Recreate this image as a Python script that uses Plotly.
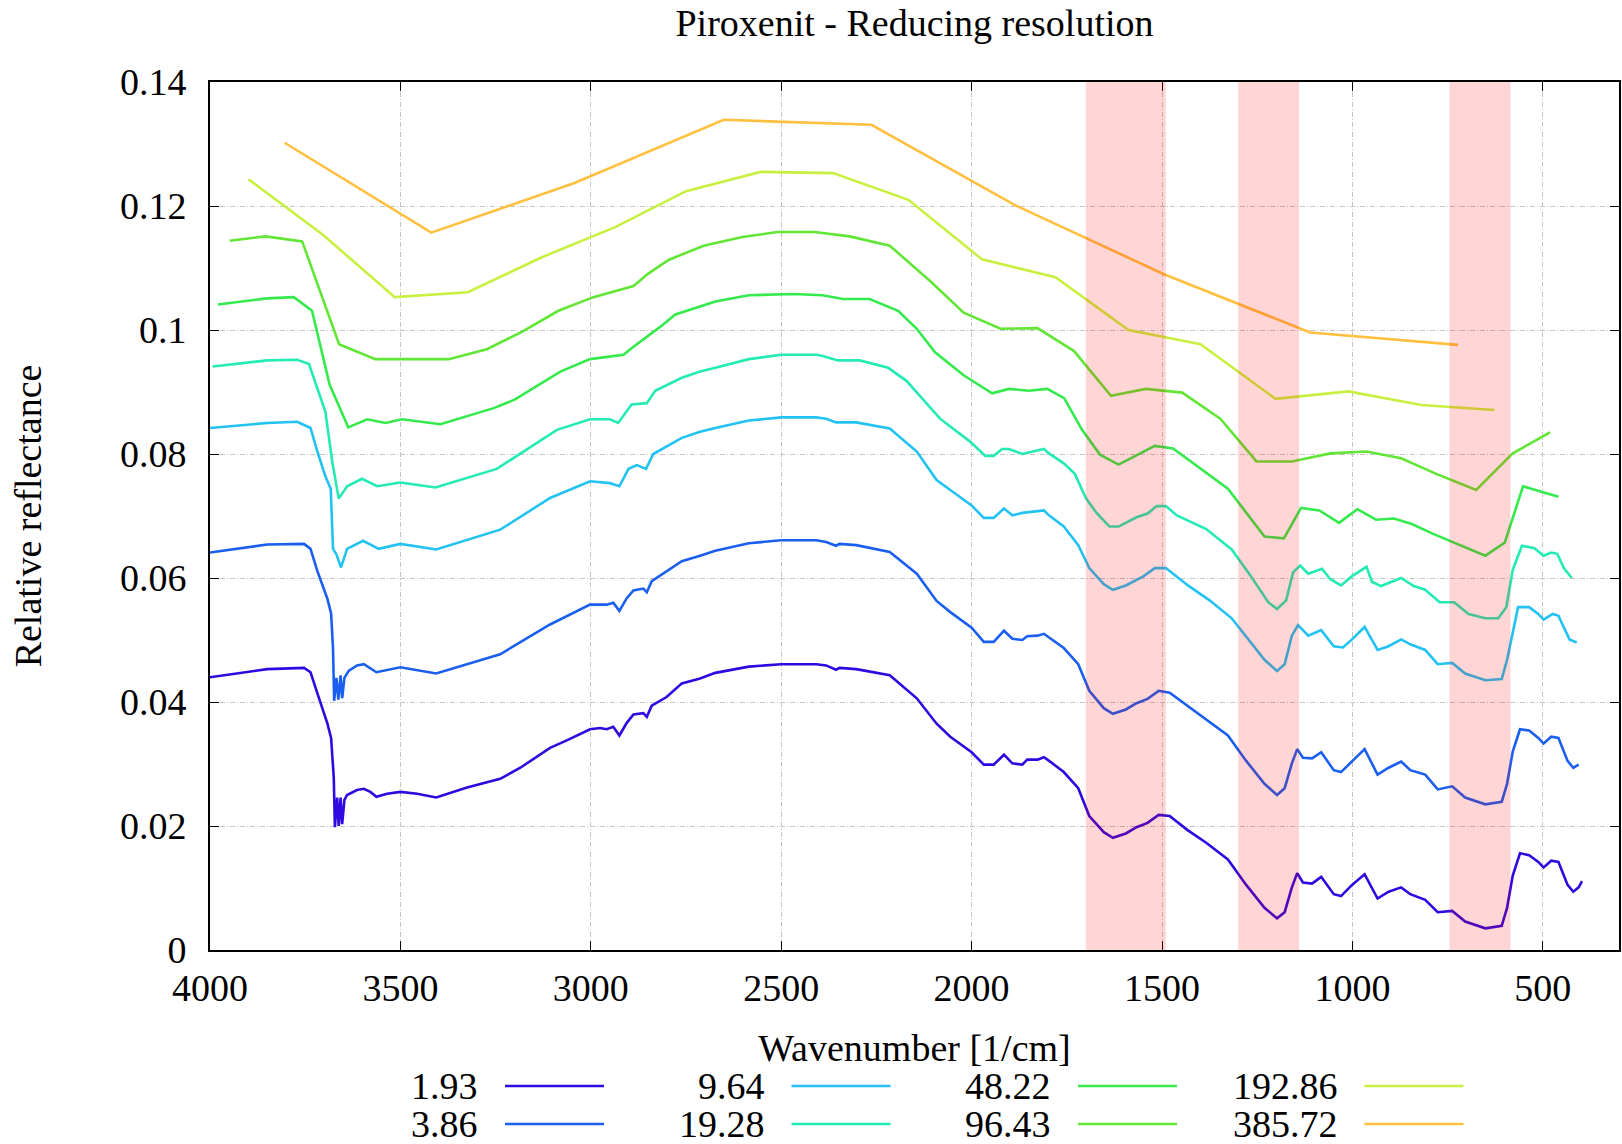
import plotly.graph_objects as go

# ---------------- data ----------------
labels = ["1.93", "3.86", "9.64", "19.28", "48.22", "96.43", "192.86", "385.72"]
colors = ["#3008e0", "#1a5ff0", "#22c2f2", "#24eab4", "#34ea4c", "#62e636", "#c8f040", "#ffc040"]

x_193 = [4000, 3850, 3753, 3736, 3718, 3692, 3682, 3675, 3672, 3666, 3662, 3657, 3653, 3647, 3640, 3627,
         3614, 3596, 3579, 3563, 3535, 3500, 3456, 3406, 3325, 3238, 3185, 3107, 3063, 3002, 2976, 2958,
         2941, 2925, 2906, 2888, 2862, 2853, 2840, 2801, 2761, 2713, 2673, 2585, 2500, 2408, 2382, 2356,
         2347, 2303, 2215, 2144, 2092, 2056, 2000, 1968, 1942, 1915, 1893, 1867, 1854, 1827, 1810, 1792,
         1758, 1720, 1691, 1653, 1629, 1595, 1567, 1538, 1509, 1480, 1432, 1384, 1327, 1279, 1231, 1198,
         1178, 1159, 1145, 1130, 1106, 1082, 1049, 1030, 1001, 968, 934, 905, 872, 848, 809, 776, 738,
         704, 651, 608, 594, 579, 560, 536, 512, 498, 478, 459, 435, 420, 406, 397]
y_193 = [.0440, .0453, .0455, .0448, .0414, .0366, .0342, .0278, .0198, .0246, .0200, .0246, .0203, .0242,
         .0250, .0254, .0258, .0260, .0255, .0247, .0252, .0255, .0252, .0246, .0262, .0276, .0294, .0326,
         .0338, .0356, .0358, .0356, .0360, .0346, .0366, .0380, .0382, .0376, .0394, .0408, .0430, .0438,
         .0447, .0457, .0461, .0461, .0459, .0452, .0455, .0453, .0443, .0406, .0365, .0344, .0319, .0299,
         .0299, .0315, .0301, .0299, .0307, .0307, .0311, .0303, .0287, .0261, .0216, .0190, .0181, .0188,
         .0198, .0205, .0218, .0216, .0193, .0173, .0146, .0105, .0068, .0051, .0061, .0101, .0124, .0109,
         .0107, .0118, .0090, .0087, .0105, .0122, .0083, .0094, .0101, .0090, .0081, .0061, .0063, .0046,
         .0035, .0039, .0068, .0120, .0156, .0153, .0142, .0133, .0144, .0142, .0105, .0094, .0101, .0111]

x_386 = [4000, 3850, 3753, 3736, 3718, 3692, 3682, 3677, 3674, 3668, 3663, 3657, 3653, 3647, 3636, 3614,
         3596, 3563, 3500, 3406, 3238, 3107, 3002, 2958, 2941, 2925, 2906, 2888, 2862, 2853, 2840, 2801,
         2761, 2713, 2673, 2585, 2500, 2408, 2382, 2356, 2347, 2303, 2215, 2144, 2092, 2056, 2000, 1968,
         1942, 1915, 1893, 1867, 1854, 1827, 1810, 1792, 1758, 1720, 1691, 1653, 1629, 1595, 1567, 1538,
         1509, 1480, 1432, 1384, 1327, 1279, 1231, 1198, 1178, 1159, 1145, 1130, 1106, 1082, 1049, 1030,
         1001, 968, 934, 905, 872, 848, 809, 776, 738, 704, 651, 608, 594, 579, 560, 536, 512, 498, 478,
         459, 435, 420, 406]
y_386 = [.0641, .0654, .0655, .0647, .0611, .0567, .0543, .0487, .0402, .0439, .0404, .0443, .0406, .0439,
         .0450, .0459, .0461, .0448, .0456, .0446, .0477, .0525, .0557, .0557, .0560, .0547, .0567, .0580,
         .0583, .0577, .0595, .0611, .0627, .0636, .0644, .0656, .0661, .0661, .0658, .0652, .0655, .0653,
         .0642, .0607, .0563, .0545, .0520, .0497, .0497, .0515, .0502, .0500, .0506, .0507, .0510, .0502,
         .0487, .0461, .0418, .0390, .0381, .0388, .0398, .0405, .0418, .0415, .0393, .0372, .0346, .0305,
         .0268, .0250, .0261, .0301, .0324, .0310, .0309, .0319, .0290, .0287, .0305, .0324, .0283, .0294,
         .0304, .0290, .0283, .0259, .0264, .0246, .0235, .0239, .0268, .0320, .0356, .0354, .0342, .0333,
         .0344, .0342, .0305, .0294, .0299]

x_964 = [4000, 3850, 3771, 3736, 3718, 3697, 3683, 3677, 3668, 3656, 3640, 3598, 3557, 3500, 3406, 3238,
         3107, 3002, 2950, 2925, 2901, 2879, 2855, 2836, 2761, 2713, 2673, 2585, 2500, 2408, 2382, 2356,
         2303, 2215, 2144, 2092, 2056, 2000, 1968, 1942, 1915, 1893, 1867, 1810, 1797, 1758, 1720, 1691,
         1653, 1629, 1595, 1548, 1519, 1490, 1432, 1375, 1317, 1279, 1231, 1198, 1178, 1159, 1143, 1116,
         1082, 1049, 1025, 1001, 968, 934, 905, 872, 848, 809, 776, 738, 704, 651, 608, 594, 565, 536, 512,
         498, 474, 459, 430, 411]
y_964 = [.0842, .0850, .0852, .0842, .0804, .0764, .0744, .0647, .0638, .0617, .0647, .0660, .0647, .0655,
         .0646, .0678, .0729, .0756, .0753, .0748, .0776, .0782, .0776, .0800, .0826, .0836, .0842, .0854,
         .0859, .0859, .0857, .0851, .0851, .0841, .0804, .0758, .0742, .0717, .0697, .0697, .0712, .0701,
         .0705, .0709, .0701, .0683, .0653, .0616, .0590, .0581, .0588, .0603, .0616, .0616, .0588, .0564,
         .0535, .0505, .0468, .0450, .0461, .0507, .0524, .0507, .0516, .0490, .0488, .0501, .0521, .0484,
         .0490, .0501, .0493, .0484, .0461, .0463, .0446, .0435, .0437, .0468, .0553, .0553, .0542, .0533,
         .0542, .0539, .0501, .0496]

x_1928 = [3993, 3850, 3771, 3740, 3697, 3679, 3662, 3640, 3601, 3561, 3500, 3408, 3247, 3089, 3002, 2950,
          2928, 2893, 2853, 2831, 2761, 2713, 2673, 2585, 2500, 2408, 2391, 2351, 2294, 2219, 2171, 2083,
          2004, 1964, 1942, 1920, 1902, 1867, 1810, 1797, 1758, 1729, 1700, 1672, 1638, 1614, 1567, 1538,
          1514, 1490, 1461, 1384, 1317, 1269, 1221, 1198, 1174, 1156, 1137, 1116, 1080, 1058, 1030, 1001,
          963, 949, 925, 872, 839, 809, 771, 733, 695, 651, 617, 596, 579, 555, 522, 498, 478, 462, 445, 424]
y_1928 = [.0941, .0951, .0952, .0945, .0868, .0788, .0728, .0748, .0760, .0748, .0754, .0746, .0776, .0839,
          .0856, .0856, .0850, .0880, .0882, .0902, .0923, .0933, .0939, .0953, .0960, .0960, .0958, .0951,
          .0951, .0939, .0918, .0857, .0820, .0797, .0797, .0808, .0808, .0800, .0808, .0801, .0785, .0768,
          .0729, .0705, .0683, .0683, .0698, .0704, .0716, .0716, .0701, .0679, .0646, .0605, .0561, .0550,
          .0564, .0609, .0620, .0607, .0615, .0598, .0588, .0603, .0618, .0594, .0587, .0600, .0587, .0581,
          .0561, .0561, .0542, .0535, .0535, .0553, .0613, .0652, .0648, .0636, .0641, .0639, .0616, .0600]

x_4822 = [3979, 3850, 3780, 3732, 3686, 3637, 3587, 3539, 3496, 3395, 3255, 3199, 3080, 3002, 2914, 2888,
          2818, 2778, 2673, 2585, 2470, 2391, 2338, 2268, 2193, 2144, 2096, 2021, 1946, 1902, 1850, 1801,
          1757, 1710, 1663, 1614, 1519, 1471, 1327, 1231, 1180, 1135, 1087, 1035, 987, 938, 891, 844, 791,
          651, 600, 552, 459]
y_4822 = [.1041, .1051, .1053, .1031, .0912, .0843, .0856, .0850, .0856, .0848, .0874, .0888, .0933, .0953,
          .0960, .0973, .1005, .1025, .1046, .1056, .1058, .1056, .1050, .1050, .1031, .1002, .0964, .0927,
          .0898, .0905, .0902, .0905, .0890, .0839, .0799, .0783, .0813, .0809, .0744, .0667, .0664, .0713,
          .0709, .0689, .0711, .0694, .0696, .0687, .0672, .0636, .0657, .0748, .0731]

x_9643 = [3948, 3854, 3758, 3661, 3566, 3373, 3273, 3181, 3085, 2993, 2888, 2849, 2796, 2704, 2602, 2510,
          2413, 2320, 2215, 2109, 2021, 1924, 1827, 1731, 1634, 1543, 1447, 1347, 1252, 1159, 1058, 963,
          872, 780, 675, 579, 481]
y_9643 = [.1144, .1151, .1143, .0977, .0953, .0953, .0969, .0997, .1031, .1053, .1071, .1091, .1113, .1136,
          .1150, .1158, .1158, .1151, .1136, .1079, .1028, .1002, .1003, .0966, .0894, .0905, .0899, .0857,
          .0788, .0788, .0801, .0804, .0793, .0768, .0742, .0801, .0835]

x_19286 = [3899, 3706, 3515, 3323, 3130, 2936, 2750, 2554, 2364, 2166, 1973, 1780, 1588, 1399, 1202, 1011,
           819, 627]
y_19286 = [.1243, .1155, .1053, .1061, .1117, .1166, .1224, .1255, .1253, .1210, .1114, .1085, .1000, .0977,
           .0889, .0901, .0879, .0871]

x_38572 = [3804, 3419, 3043, 2651, 2263, 1885, 1495, 1111, 723]
y_38572 = [.1302, .1157, .1237, .1339, .1331, .1201, .1090, .0996, .0976]

xs = [x_193, x_386, x_964, x_1928, x_4822, x_9643, x_19286, x_38572]
ys = [y_193, y_386, y_964, y_1928, y_4822, y_9643, y_19286, y_38572]

band_starts = [1700, 1300, 745]
band_ends = [1490, 1140, 585]

x_ticks = [4000, 3500, 3000, 2500, 2000, 1500, 1000, 500]
y_ticks = [0, 0.02, 0.04, 0.06, 0.08, 0.10, 0.12, 0.14]
y_ticktext = ["0", "0.02", "0.04", "0.06", "0.08", "0.1", "0.12", "0.14"]

# ---------------- figure ----------------
W, H = 1622, 1144
ML, MR, MT, MB = 210, 3, 82, 194
PW, PH = W - ML - MR, H - MT - MB
FONT = "Liberation Serif"
FS = 38

fig = go.Figure()
for lab, col, x, y in zip(labels, colors, xs, ys):
    fig.add_trace(go.Scatter(x=x, y=y, mode="lines", name=lab,
                             line=dict(color=col, width=2.6), showlegend=False))

for x0, x1 in zip(band_starts, band_ends):
    fig.add_shape(type="rect", xref="x", yref="paper", x0=x0, x1=x1, y0=0, y1=1,
                  fillcolor="rgba(255,0,0,0.165)", line=dict(width=0), layer="above")

# gnuplot-style legend: label right-aligned, sample line to the right
for i, (lab, col) in enumerate(zip(labels, colors)):
    c, r = i // 2, i % 2
    tr_px = 480 + c * 286.5
    y_px = 1086 + r * 38
    yp = (H - MB - y_px) / PH
    fig.add_annotation(x=(tr_px - ML) / PW, y=yp, xref="paper", yref="paper",
                       text=lab, showarrow=False, xanchor="right", yanchor="middle",
                       font=dict(family=FONT, size=FS, color="black"))
    fig.add_shape(type="line", xref="paper", yref="paper",
                  x0=(tr_px + 25 - ML) / PW, x1=(tr_px + 124 - ML) / PW, y0=yp, y1=yp,
                  line=dict(color=col, width=2.6))

axis_common = dict(showline=True, linecolor="black", linewidth=1.6, mirror="ticks",
                   ticks="inside", ticklen=9, tickwidth=1.4, tickcolor="black",
                   showgrid=True, gridcolor="#c4c4c4", gridwidth=1, griddash="5px,2px,1px,2px",
                   zeroline=False, tickfont=dict(family=FONT, size=FS, color="black"))

fig.update_xaxes(range=[4000, 300], tickvals=x_ticks, ticktext=[str(v) for v in x_ticks],
                 ticklabelstandoff=4,
                 title=dict(text="Wavenumber [1/cm]", font=dict(family=FONT, size=FS, color="black"), standoff=26),
                 **axis_common)
fig.update_yaxes(range=[0, 0.14], tickvals=y_ticks, ticktext=y_ticktext,
                 ticklabelstandoff=14,
                 title=dict(text="Relative reflectance", font=dict(family=FONT, size=FS, color="black"), standoff=67),
                 **axis_common)

fig.update_layout(
    width=W, height=H,
    margin=dict(l=ML, r=MR, t=MT, b=MB, autoexpand=False),
    paper_bgcolor="white", plot_bgcolor="white",
    title=dict(text="Piroxenit - Reducing resolution", x=(ML + PW / 2) / W, xanchor="center",
               y=1 - 23 / H, yanchor="middle", yref="container",
               font=dict(family=FONT, size=FS, color="black")),
    showlegend=False,
)

fig.write_html("out.html")
